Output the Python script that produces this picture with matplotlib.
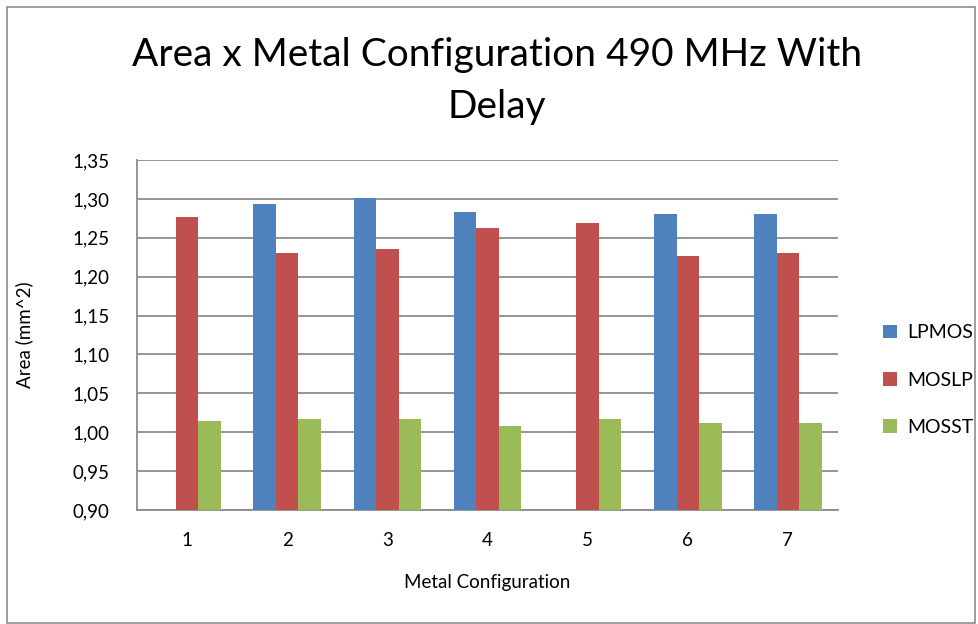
import numpy as np
import matplotlib.pyplot as plt
from matplotlib.patches import Rectangle

plt.rcParams['font.family'] = ['Lato', 'DejaVu Sans']

configs = ['1', '2', '3', '4', '5', '6', '7']
lpmos = [np.nan, 1.294, 1.301, 1.283, np.nan, 1.280, 1.280]
moslp = [1.277, 1.231, 1.236, 1.263, 1.269, 1.227, 1.231]
mosst = [1.014, 1.017, 1.017, 1.008, 1.017, 1.012, 1.012]
yticks = [0.90, 0.95, 1.00, 1.05, 1.10, 1.15, 1.20, 1.25, 1.30, 1.35]

colors = ['#4f81bd', '#c0504d', '#9bbb59']
series = [('LPMOS', lpmos), ('MOSLP', moslp), ('MOSST', mosst)]

fig = plt.figure(figsize=(9.79, 6.24), dpi=100)
ax = fig.add_axes([137 / 979, 1 - 510 / 624, 701 / 979, 350 / 624])

x = np.arange(len(configs))
w = 0.225
for i, (name, vals) in enumerate(series):
    ax.bar(x + (i - 1) * w, vals, w, color=colors[i], label=name, zorder=3)

ax.set_xlim(-0.5, len(configs) - 0.5)
ax.set_ylim(0.90, 1.35)
ax.set_yticks(yticks)
ax.set_yticklabels([f'{v:.2f}'.replace('.', ',') for v in yticks])
ax.set_xticks(x)
ax.set_xticklabels(configs)
ax.tick_params(length=0, labelsize=13.5, colors='#000000')
ax.tick_params(axis='y', pad=20)
ax.tick_params(axis='x', pad=16)
ax.yaxis.grid(True, color='#8c8c8c', lw=1.3, zorder=0)
for s in ['top', 'right']:
    ax.spines[s].set_visible(False)
for s in ['left', 'bottom']:
    ax.spines[s].set_color('#8c8c8c')
    ax.spines[s].set_linewidth(1.3)

ax.set_xlabel('Metal Configuration', fontsize=13.5, labelpad=18)
ax.set_ylabel('Area (mm^2)', fontsize=13.5, labelpad=28)

fig.text(497 / 979, 1 - 55 / 624, 'Area x Metal Configuration 490 MHz With',
         ha='center', va='center', fontsize=28)
fig.text(497 / 979, 1 - 107 / 624, 'Delay', ha='center', va='center', fontsize=28)

leg = fig.legend(loc='center left', bbox_to_anchor=(866 / 979, 1 - 380 / 624),
                 frameon=False, fontsize=14, handlelength=0.7, handleheight=0.7,
                 labelspacing=1.55, handletextpad=0.5)

fig.patches.append(Rectangle((7 / 979, 1 / 624), 968 / 979, 616 / 624,
                             transform=fig.transFigure, fill=False,
                             edgecolor='#8c8c8c', lw=1.2))

fig.savefig('out.png', dpi=100)
